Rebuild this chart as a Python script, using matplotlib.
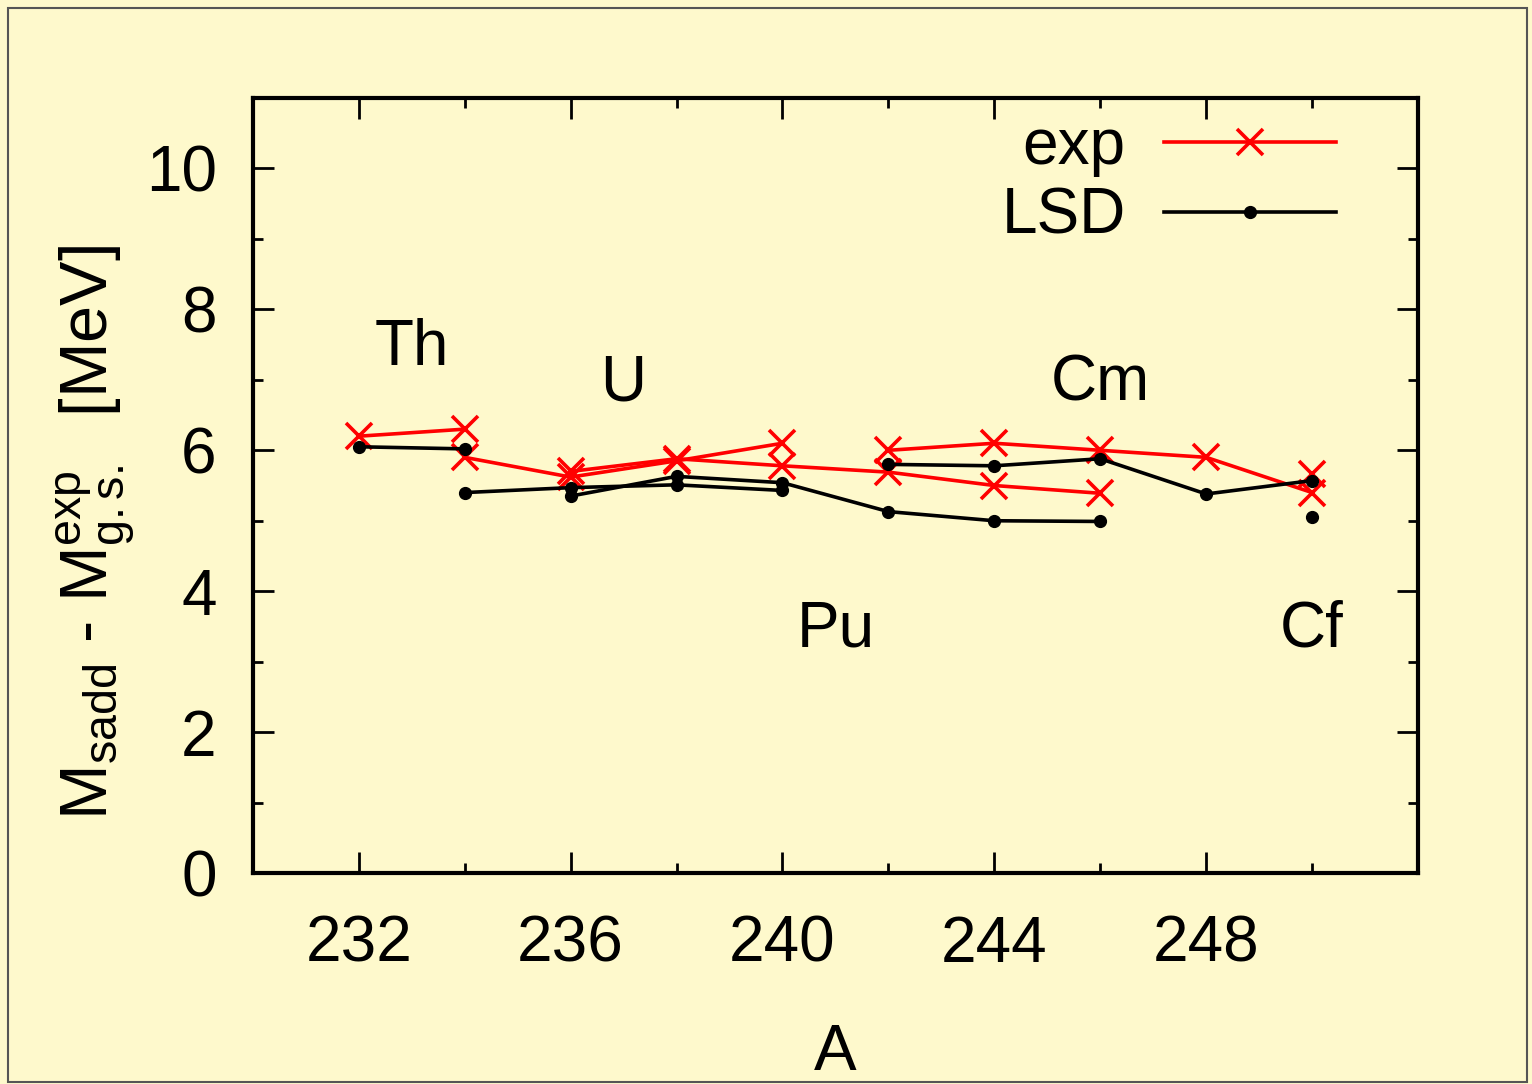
import matplotlib.pyplot as plt
import numpy as np
from matplotlib.patches import Rectangle

plt.rcParams['font.family'] = ['Liberation Sans', 'DejaVu Sans']
plt.rcParams['mathtext.fontset'] = 'custom'
plt.rcParams['mathtext.rm'] = 'Liberation Sans'
plt.rcParams['mathtext.it'] = 'Liberation Sans'

# isotope chains, experimental barriers
A_th = [232, 234]
exp_th = [6.2, 6.3]
lsd_th = [6.05, 6.02]

A_u = [234, 236, 238, 240]
exp_u = [5.9, 5.62, 5.85, 6.1]
lsd_u = [5.4, 5.47, 5.51, 5.43]

A_pu = [236, 238, 240, 242, 244, 246]
exp_pu = [5.7, 5.88, 5.78, 5.69, 5.5, 5.39]
lsd_pu = [5.35, 5.63, 5.54, 5.13, 5.0, 4.99]

A_cm = [242, 244, 246, 248, 250]
exp_cm = [6.0, 6.1, 6.0, 5.9, 5.4]
lsd_cm = [5.8, 5.78, 5.88, 5.38, 5.57]

A_cf = [250]
exp_cf = [5.67]
lsd_cf = [5.06]

chains = [(A_th, exp_th, lsd_th), (A_u, exp_u, lsd_u), (A_pu, exp_pu, lsd_pu),
          (A_cm, exp_cm, lsd_cm), (A_cf, exp_cf, lsd_cf)]

names = ['Th', 'U', 'Pu', 'Cm', 'Cf']
name_x = [233.0, 237.0, 241.0, 246.0, 250.0]
name_y = [7.45, 6.95, 3.45, 6.95, 3.45]

bg = '#fef9cc'
fs = 46

fig = plt.figure(figsize=(15.32, 10.84), dpi=100, facecolor=bg)
ax = fig.add_axes([0.165, 0.1946, 0.7606, 0.715])
ax.set_facecolor(bg)

for i, (a, e, l) in enumerate(chains):
    ax.plot(a, e, color='red', lw=2.6, marker='x', ms=19, mew=2.6,
            label='exp' if i == 0 else None, zorder=3)
    ax.plot(a, l, color='black', lw=2.6, marker='o', ms=8.5,
            label='LSD' if i == 0 else None, zorder=4)

for n, x, y in zip(names, name_x, name_y):
    ax.text(x, y, n, fontsize=fs, ha='center', va='center')

ax.set_xlim(230, 252)
ax.set_ylim(0, 11)
ax.set_xticks(np.arange(232, 252, 4))
ax.set_xticks(np.arange(230, 253, 2), minor=True)
ax.set_yticks(np.arange(0, 11, 2))
ax.set_yticks(np.arange(0, 12, 1), minor=True)
ax.tick_params(which='both', direction='in', top=True, right=True,
               labelsize=fs, width=2)
ax.tick_params(which='major', length=15)
ax.tick_params(which='minor', length=7)
ax.tick_params(axis='x', which='major', pad=30)
ax.tick_params(axis='y', which='major', pad=26)
for s in ax.spines.values():
    s.set_linewidth(3)

ax.set_xlabel('A', fontsize=fs)
ax.xaxis.set_label_coords(0.5, -0.193)
ax.set_ylabel(r'M$_{\rm sadd}$ - M$^{\rm exp}_{\rm g.s.}$  [MeV]',
              fontsize=48)
ax.yaxis.set_label_coords(-0.099, 0.44)

ax.legend(loc='upper right', bbox_to_anchor=(0.93, 0.975), frameon=False,
          fontsize=fs, markerfirst=False, numpoints=1, handlelength=2.7,
          handletextpad=0.6, labelspacing=0.15, borderpad=0,
          borderaxespad=0)

fig.patches.append(Rectangle((0.005, 0.002), 0.992, 0.991,
                             transform=fig.transFigure, fill=False,
                             edgecolor='#555555', lw=1.5))

fig.savefig('out.png', dpi=100, facecolor=bg)
